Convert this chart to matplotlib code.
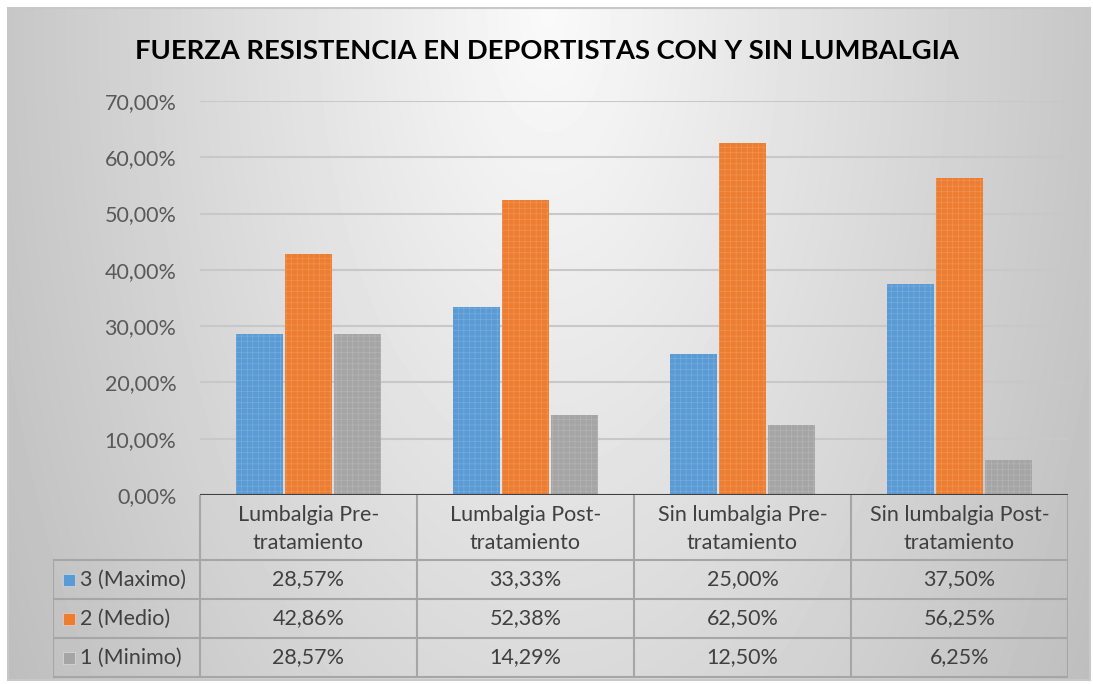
import numpy as np
from matplotlib import pyplot as plt
from matplotlib.patches import Rectangle

categories = ['Lumbalgia Pre-\ntratamiento', 'Lumbalgia Post-\ntratamiento',
              'Sin lumbalgia Pre-\ntratamiento', 'Sin lumbalgia Post-\ntratamiento']
series_names = ['3 (Maximo)', '2 (Medio)', '1 (Minimo)']
maximo = [28.57, 33.33, 25.00, 37.50]
medio = [42.86, 52.38, 62.50, 56.25]
minimo = [28.57, 14.29, 12.50, 6.25]
colors = ['#5B9BD5', '#ED7D31', '#A5A5A5']
title = 'FUERZA RESISTENCIA EN DEPORTISTAS CON Y SIN LUMBALGIA'

plt.rcParams['font.family'] = ['Lato', 'DejaVu Sans']
plt.rcParams['hatch.linewidth'] = 0.4

W, H = 1093, 684


def px_rect(x0, y0, x1, y1):
    return [x0 / W, 1 - y1 / H, (x1 - x0) / W, (y1 - y0) / H]


def pct(v):
    return f'{v:.2f}'.replace('.', ',') + '%'


fig = plt.figure(figsize=(W / 100, H / 100), dpi=100)

# background gradient, light at top centre, grey at the edges
bg = fig.add_axes(px_rect(8, 8, 1090, 680))
gx, gy = np.meshgrid(np.linspace(-1, 1, 300), np.linspace(0, 1, 200))
r = np.sqrt((gx / 1.0) ** 2 + (gy / 1.6) ** 2)
bg.imshow(0.98 - 0.2 * np.clip(r, 0, 1.2), cmap='gray', vmin=0, vmax=1,
          aspect='auto', extent=(0, 1, 1, 0), interpolation='bilinear')
bg.set_xlim(0, 1)
bg.set_ylim(1, 0)
bg.axis('off')
fig.patches.append(Rectangle(px_rect(8, 8, 1090, 680)[:2], 1082 / W, 672 / H,
                             transform=fig.transFigure, fill=False,
                             edgecolor='#c8c8c8', lw=1.5))

fig.text(0.5, 1 - 51 / H, title, ha='center', va='center',
         fontsize=19.7, fontweight='bold', color='black')

# bars
ax = fig.add_axes(px_rect(200, 101, 1068, 495))
ax.patch.set_alpha(0)
x = np.arange(len(categories))
bw = 0.216
step = 0.224
for i, vals in enumerate([maximo, medio, minimo]):
    pos = x + (i - 1) * step
    ax.bar(pos, vals, bw, color=colors[i], edgecolor='none', zorder=3)
    ax.bar(pos, vals, bw, color='none', edgecolor='#ffffff33', hatch='+++',
           lw=0, zorder=4)
ax.set_xlim(-0.5, 3.5)
ax.set_ylim(0, 70)
ax.set_yticks(np.arange(0, 71, 10))
ax.set_yticklabels([pct(v) for v in np.arange(0, 71, 10)], fontsize=15.5,
                   color='#595959')
ax.tick_params(axis='y', length=0, pad=17)
ax.set_xticks([])
ax.grid(axis='y', color='#c8c8c8', lw=1.5, zorder=0)
for s in ax.spines.values():
    s.set_visible(False)
ax.axhline(0, color='#404040', lw=1.5, zorder=5)

# data table
tb = fig.add_axes(px_rect(53, 495, 1068, 679))
tb.patch.set_alpha(0)
x_left = -0.5 - 147 / 217
tb.set_xlim(x_left, 3.5)
tb.set_ylim(184, 0)
tb.axis('off')
rows = [0, 65, 104, 143, 182]
lc = '#a6a6a6'
for b in np.arange(-0.5, 4, 1):
    tb.plot([b, b], [0, 182], color=lc, lw=1.5)
tb.plot([x_left, x_left], [65, 182], color=lc, lw=1.5)
for yy in rows[1:]:
    tb.plot([x_left, 3.5], [yy, yy], color=lc, lw=1.5)
for j, cat in enumerate(categories):
    tb.text(j, 34, cat, ha='center', va='center', fontsize=15.5,
            color='#404040', linespacing=1.55)
for i, vals in enumerate([maximo, medio, minimo]):
    yc = (rows[i + 1] + rows[i + 2]) / 2
    tb.plot(x_left + 16 / 217, yc, 's', ms=8.5, color=colors[i], mec='#ffffff88', mew=0.5)
    tb.text(x_left + 27 / 217, yc, series_names[i], ha='left', va='center',
            fontsize=15.5, color='#404040')
    for j, v in enumerate(vals):
        tb.text(j, yc, pct(v), ha='center', va='center', fontsize=15.5,
                color='#404040')

fig.savefig('out.png', dpi=100)
